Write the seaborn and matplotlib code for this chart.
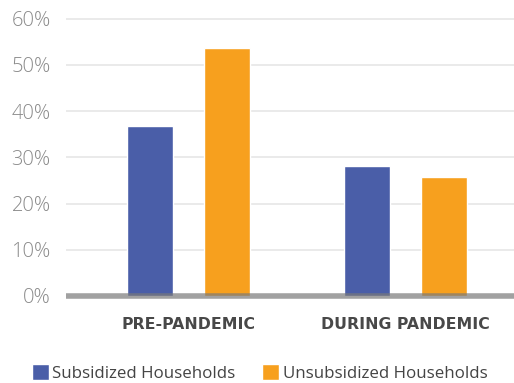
import matplotlib
matplotlib.use("Agg")
import matplotlib.pyplot as plt
import matplotlib.ticker as mticker
import pandas as pd
import seaborn as sns

periods = ["PRE-PANDEMIC", "DURING PANDEMIC"]
groups = ["Subsidized Households", "Unsubsidized Households"]
subsidized = [0.368, 0.281]
unsubsidized = [0.536, 0.258]
yticks = [0.0, 0.1, 0.2, 0.3, 0.4, 0.5, 0.6]
colors = ["#4A5EA8", "#F7A01E"]

df = pd.DataFrame({
    "period": periods * 2,
    "group": [groups[0]] * 2 + [groups[1]] * 2,
    "share": subsidized + unsubsidized,
})

sns.set_theme(style="white")
plt.rcParams["font.family"] = ["Open Sans", "DejaVu Sans"]

W, H = 514, 383
fig = plt.figure(figsize=(W / 100, H / 100), dpi=100)
ax_left, ax_right = 66, 514
ax_top, ax_bottom = 15, 300
ax = fig.add_axes([ax_left / W, 1 - ax_bottom / H,
                   (ax_right - ax_left) / W, (ax_bottom - ax_top) / H])

sns.barplot(data=df, x="period", y="share", hue="group", order=periods,
            hue_order=groups, palette=colors, width=0.71, gap=0.40,
            saturation=1, ax=ax, zorder=2)

ax.set_xlim(-0.565, 1.5)
ax.set_ylim(-0.0087, 0.608)
ax.set_yticks(yticks)
ax.yaxis.set_major_formatter(mticker.FuncFormatter(lambda v, _: f"{v * 100:.0f}%"))
for y in yticks[1:]:
    ax.axhline(y, color="#e8e8e8", lw=1.3, zorder=1)
ax.axhline(0, color="#7a7a7a", lw=4, alpha=0.7, zorder=3)

for s in ax.spines.values():
    s.set_visible(False)
ax.set_xlabel("")
ax.set_ylabel("")
ax.tick_params(axis="y", length=0, pad=11, labelsize=14.5, labelcolor="#8a8a8a")
ax.tick_params(axis="x", length=0, pad=12, labelcolor="#484848")
for lbl in ax.get_xticklabels():
    lbl.set_fontfamily("DejaVu Sans")
    lbl.set_fontweight("bold")
    lbl.set_fontsize(11.3)
for lbl in ax.get_yticklabels():
    lbl.set_fontweight("light")

handles, labels = ax.get_legend_handles_labels()
ax.get_legend().remove()
fig.legend(handles, labels, loc="lower center", bbox_to_anchor=(0.505, -0.037),
           ncol=2, frameon=False, fontsize=12.2, handlelength=1.0, handleheight=1.1,
           handletextpad=0.2, columnspacing=1.6, labelcolor="#444444")

fig.savefig("out.png", dpi=100)
